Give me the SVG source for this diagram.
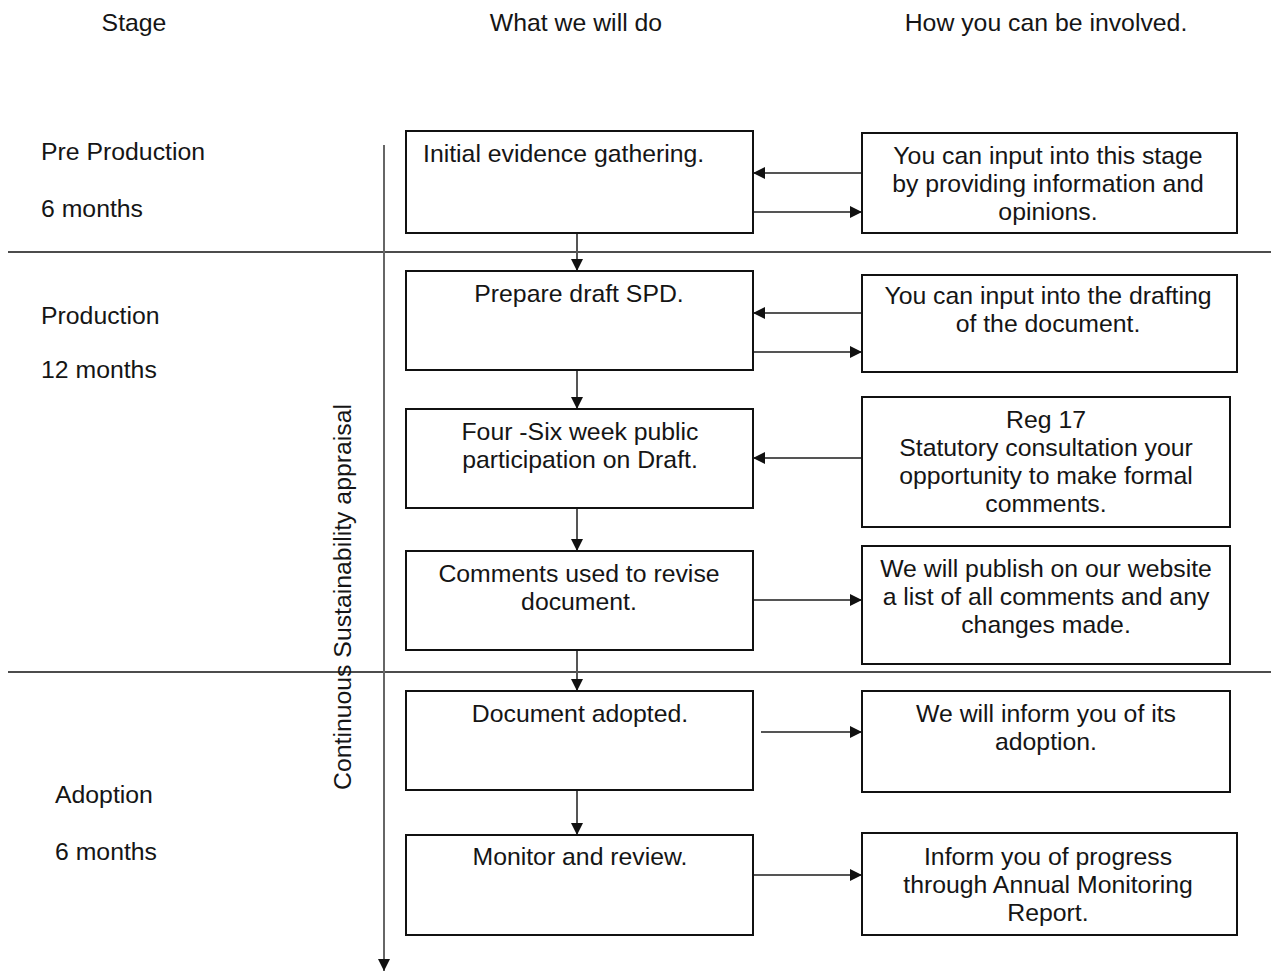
<svg xmlns="http://www.w3.org/2000/svg" width="1271" height="974" viewBox="0 0 1271 974">
<style>
text{font-family:"Liberation Sans",Arial,sans-serif;font-size:24.8px;fill:#151515}
.c{text-anchor:middle}
.box{fill:#fff;stroke:#111;stroke-width:2}
.conn{stroke:#555;stroke-width:2;fill:none}
.axis{stroke:#666;stroke-width:2;fill:none}
.div{stroke:#111;stroke-width:1.5}
</style>
<defs>
<marker id="ah" viewBox="0 0 10 10" refX="10" refY="5" markerWidth="12" markerHeight="12" markerUnits="userSpaceOnUse" orient="auto">
<path d="M0,0 L10,5 L0,10 z" fill="#111"/>
</marker>
</defs>
<g id="headers">
<text x="134" y="31" class="c">Stage</text>
<text x="576" y="31" class="c">What we will do</text>
<text x="1046" y="31" class="c">How you can be involved.</text>
</g>
<g id="dividers">
<line class="div" x1="8" y1="252" x2="1271" y2="252"/>
<line class="div" x1="8" y1="672" x2="1271" y2="672"/>
</g>
<g id="stages">
<text x="41" y="160">Pre Production</text>
<text x="41" y="217">6 months</text>
<text x="41" y="324">Production</text>
<text x="41" y="378">12 months</text>
<text x="55" y="803">Adoption</text>
<text x="55" y="860">6 months</text>
</g>
<g id="appraisal">
<text transform="translate(351,597) rotate(-90)" class="c">Continuous Sustainability appraisal</text>
</g>
<g id="connectors">
<line class="axis" x1="384" y1="145" x2="384" y2="971" marker-end="url(#ah)"/>
<line class="conn" x1="577" y1="233" x2="577" y2="271" marker-end="url(#ah)"/>
<line class="conn" x1="577" y1="370" x2="577" y2="409" marker-end="url(#ah)"/>
<line class="conn" x1="577" y1="508" x2="577" y2="551" marker-end="url(#ah)"/>
<line class="conn" x1="577" y1="650" x2="577" y2="691" marker-end="url(#ah)"/>
<line class="conn" x1="577" y1="790" x2="577" y2="835" marker-end="url(#ah)"/>
<line class="conn" x1="862" y1="173" x2="753" y2="173" marker-end="url(#ah)"/>
<line class="conn" x1="753" y1="212" x2="862" y2="212" marker-end="url(#ah)"/>
<line class="conn" x1="862" y1="313" x2="753" y2="313" marker-end="url(#ah)"/>
<line class="conn" x1="753" y1="352" x2="862" y2="352" marker-end="url(#ah)"/>
<line class="conn" x1="862" y1="458" x2="753" y2="458" marker-end="url(#ah)"/>
<line class="conn" x1="753" y1="600" x2="862" y2="600" marker-end="url(#ah)"/>
<line class="conn" x1="761" y1="732" x2="862" y2="732" marker-end="url(#ah)"/>
<line class="conn" x1="753" y1="875" x2="862" y2="875" marker-end="url(#ah)"/>
</g>
<g id="do1"><rect class="box" x="406" y="131" width="347" height="102"/><text x="423" y="162">Initial evidence gathering.</text></g>
<g id="do2"><rect class="box" x="406" y="271" width="347" height="99"/><text x="579" y="302" class="c">Prepare draft SPD.</text></g>
<g id="do3"><rect class="box" x="406" y="409" width="347" height="99"/><text x="580" y="440" class="c">Four -Six week public</text><text x="580" y="468" class="c">participation on Draft.</text></g>
<g id="do4"><rect class="box" x="406" y="551" width="347" height="99"/><text x="579" y="582" class="c">Comments used to revise</text><text x="579" y="610" class="c">document.</text></g>
<g id="do5"><rect class="box" x="406" y="691" width="347" height="99"/><text x="580" y="722" class="c">Document adopted.</text></g>
<g id="do6"><rect class="box" x="406" y="835" width="347" height="100"/><text x="580" y="865" class="c">Monitor and review.</text></g>
<g id="inv1"><rect class="box" x="862" y="133" width="375" height="100"/><text x="1048" y="164" class="c">You can input into this stage</text><text x="1048" y="192" class="c">by providing information and</text><text x="1048" y="220" class="c">opinions.</text></g>
<g id="inv2"><rect class="box" x="862" y="275" width="375" height="97"/><text x="1048" y="304" class="c">You can input into the drafting</text><text x="1048" y="332" class="c">of the document.</text></g>
<g id="inv3"><rect class="box" x="862" y="397" width="368" height="130"/><text x="1046" y="428" class="c">Reg 17</text><text x="1046" y="456" class="c">Statutory consultation your</text><text x="1046" y="484" class="c">opportunity to make formal</text><text x="1046" y="512" class="c">comments.</text></g>
<g id="inv4"><rect class="box" x="862" y="546" width="368" height="118"/><text x="1046" y="577" class="c">We will publish on our website</text><text x="1046" y="605" class="c">a list of all comments and any</text><text x="1046" y="633" class="c">changes made.</text></g>
<g id="inv5"><rect class="box" x="862" y="691" width="368" height="101"/><text x="1046" y="722" class="c">We will inform you of its</text><text x="1046" y="750" class="c">adoption.</text></g>
<g id="inv6"><rect class="box" x="862" y="833" width="375" height="102"/><text x="1048" y="865" class="c">Inform you of progress</text><text x="1048" y="893" class="c">through Annual Monitoring</text><text x="1048" y="921" class="c">Report.</text></g>
</svg>
